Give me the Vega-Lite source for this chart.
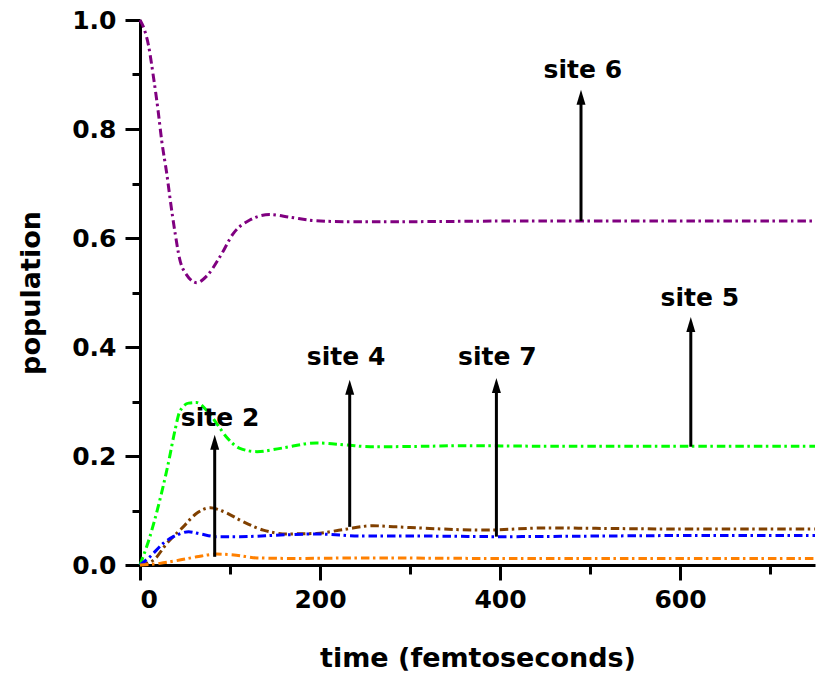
{
  "$schema": "https://vega.github.io/schema/vega-lite/v6.json",
  "width": 675,
  "height": 545,
  "autosize": {"type": "none"},
  "padding": {"left": 140, "top": 20, "right": 2, "bottom": 112},
  "background": "white",
  "config": {"view": {"stroke": null}, "font": "DejaVu Sans"},
  "datasets": {
    "curves": [
      {"site": "site 6", "t": 0, "p": 1.0}, {"site": "site 6", "t": 5, "p": 0.982}, {"site": "site 6", "t": 9, "p": 0.957},
      {"site": "site 6", "t": 15, "p": 0.895}, {"site": "site 6", "t": 20, "p": 0.835}, {"site": "site 6", "t": 24, "p": 0.78},
      {"site": "site 6", "t": 30, "p": 0.715}, {"site": "site 6", "t": 34, "p": 0.665}, {"site": "site 6", "t": 39, "p": 0.609},
      {"site": "site 6", "t": 44, "p": 0.562}, {"site": "site 6", "t": 52, "p": 0.532}, {"site": "site 6", "t": 63, "p": 0.518},
      {"site": "site 6", "t": 74, "p": 0.53}, {"site": "site 6", "t": 89, "p": 0.566}, {"site": "site 6", "t": 104, "p": 0.609},
      {"site": "site 6", "t": 122, "p": 0.633}, {"site": "site 6", "t": 144, "p": 0.643}, {"site": "site 6", "t": 167, "p": 0.638},
      {"site": "site 6", "t": 193, "p": 0.632}, {"site": "site 6", "t": 230, "p": 0.630}, {"site": "site 6", "t": 300, "p": 0.630},
      {"site": "site 6", "t": 400, "p": 0.631}, {"site": "site 6", "t": 500, "p": 0.631}, {"site": "site 6", "t": 600, "p": 0.631},
      {"site": "site 6", "t": 750, "p": 0.631},
      {"site": "site 5", "t": 0, "p": 0}, {"site": "site 5", "t": 11, "p": 0.052}, {"site": "site 5", "t": 22, "p": 0.119},
      {"site": "site 5", "t": 31.5, "p": 0.187}, {"site": "site 5", "t": 39, "p": 0.248}, {"site": "site 5", "t": 44, "p": 0.281},
      {"site": "site 5", "t": 54, "p": 0.297}, {"site": "site 5", "t": 63, "p": 0.298}, {"site": "site 5", "t": 74, "p": 0.284},
      {"site": "site 5", "t": 85, "p": 0.26}, {"site": "site 5", "t": 96, "p": 0.235}, {"site": "site 5", "t": 111, "p": 0.214},
      {"site": "site 5", "t": 130, "p": 0.208}, {"site": "site 5", "t": 156, "p": 0.214}, {"site": "site 5", "t": 196, "p": 0.224},
      {"site": "site 5", "t": 230, "p": 0.22}, {"site": "site 5", "t": 256, "p": 0.217}, {"site": "site 5", "t": 322, "p": 0.218},
      {"site": "site 5", "t": 352, "p": 0.219}, {"site": "site 5", "t": 450, "p": 0.218}, {"site": "site 5", "t": 550, "p": 0.218},
      {"site": "site 5", "t": 650, "p": 0.218}, {"site": "site 5", "t": 750, "p": 0.218},
      {"site": "site 4", "t": 0, "p": 0}, {"site": "site 4", "t": 15, "p": 0.009}, {"site": "site 4", "t": 30, "p": 0.04},
      {"site": "site 4", "t": 48, "p": 0.07}, {"site": "site 4", "t": 63, "p": 0.095}, {"site": "site 4", "t": 78, "p": 0.105},
      {"site": "site 4", "t": 93, "p": 0.098}, {"site": "site 4", "t": 115, "p": 0.079}, {"site": "site 4", "t": 137, "p": 0.064},
      {"site": "site 4", "t": 163, "p": 0.057}, {"site": "site 4", "t": 196, "p": 0.058}, {"site": "site 4", "t": 226, "p": 0.065},
      {"site": "site 4", "t": 259, "p": 0.072}, {"site": "site 4", "t": 285, "p": 0.070}, {"site": "site 4", "t": 322, "p": 0.067},
      {"site": "site 4", "t": 381, "p": 0.064}, {"site": "site 4", "t": 450, "p": 0.068}, {"site": "site 4", "t": 520, "p": 0.067},
      {"site": "site 4", "t": 600, "p": 0.066}, {"site": "site 4", "t": 750, "p": 0.066},
      {"site": "site 7", "t": 0, "p": 0}, {"site": "site 7", "t": 11, "p": 0.015}, {"site": "site 7", "t": 26, "p": 0.04},
      {"site": "site 7", "t": 41, "p": 0.055}, {"site": "site 7", "t": 54, "p": 0.061}, {"site": "site 7", "t": 67, "p": 0.057},
      {"site": "site 7", "t": 85, "p": 0.052}, {"site": "site 7", "t": 111, "p": 0.052}, {"site": "site 7", "t": 156, "p": 0.055},
      {"site": "site 7", "t": 196, "p": 0.057}, {"site": "site 7", "t": 248, "p": 0.053}, {"site": "site 7", "t": 322, "p": 0.053},
      {"site": "site 7", "t": 400, "p": 0.052}, {"site": "site 7", "t": 500, "p": 0.053}, {"site": "site 7", "t": 600, "p": 0.054},
      {"site": "site 7", "t": 750, "p": 0.054},
      {"site": "site 2", "t": 0, "p": 0}, {"site": "site 2", "t": 22, "p": 0.003}, {"site": "site 2", "t": 44, "p": 0.009},
      {"site": "site 2", "t": 63, "p": 0.015}, {"site": "site 2", "t": 85, "p": 0.02}, {"site": "site 2", "t": 107, "p": 0.018},
      {"site": "site 2", "t": 130, "p": 0.013}, {"site": "site 2", "t": 174, "p": 0.012}, {"site": "site 2", "t": 248, "p": 0.013},
      {"site": "site 2", "t": 400, "p": 0.012}, {"site": "site 2", "t": 750, "p": 0.012}
    ],
    "arrows": [
      {"site": "site 2", "t": 83, "base": 0.015, "shaft": 0.225, "tip": 0.239, "lt": 89, "lp": 0.27},
      {"site": "site 4", "t": 233, "base": 0.070, "shaft": 0.326, "tip": 0.34, "lt": 229, "lp": 0.382},
      {"site": "site 7", "t": 396, "base": 0.052, "shaft": 0.329, "tip": 0.343, "lt": 397, "lp": 0.382},
      {"site": "site 5", "t": 612, "base": 0.217, "shaft": 0.441, "tip": 0.455, "lt": 622, "lp": 0.49},
      {"site": "site 6", "t": 490, "base": 0.631, "shaft": 0.858, "tip": 0.872, "lt": 492, "lp": 0.908}
    ]
  },
  "resolve": {"axis": {"x": "independent", "y": "independent"}},
  "layer": [
    {
      "data": {"name": "curves"},
      "mark": {"type": "line", "interpolate": "monotone", "strokeWidth": 3, "strokeDash": [8.5, 3.5, 2.5, 4]},
      "encoding": {
        "x": {"field": "t", "type": "quantitative", "scale": {"domain": [0, 750], "nice": false},
          "axis": {"orient": "bottom", "values": [0, 200, 400, 600], "grid": false, "domainColor": "black", "domainWidth": 3,
            "tickColor": "black", "tickWidth": 3, "tickSize": 15, "labelFont": "DejaVu Sans", "labelFontWeight": "bold",
            "labelFontSize": 25, "labelColor": "black", "labelPadding": 7, "title": "time (femtoseconds)",
            "titleFont": "DejaVu Sans", "titleFontWeight": "bold", "titleFontSize": 27, "titleColor": "black", "titlePadding": 33}},
        "y": {"field": "p", "type": "quantitative", "scale": {"domain": [0, 1], "nice": false},
          "axis": {"orient": "left", "values": [0, 0.2, 0.4, 0.6, 0.8, 1.0], "format": ".1f", "grid": false, "domainColor": "black",
            "domainWidth": 3, "tickColor": "black", "tickWidth": 3, "tickSize": 15, "labelFont": "DejaVu Sans",
            "labelFontWeight": "bold", "labelFontSize": 25, "labelColor": "black", "labelPadding": 9, "title": "population",
            "titleFont": "DejaVu Sans", "titleFontWeight": "bold", "titleFontSize": 27, "titleColor": "black", "titlePadding": 26}},
        "color": {"field": "site", "type": "nominal", "legend": null,
          "scale": {"domain": ["site 2", "site 4", "site 5", "site 6", "site 7"],
            "range": ["#ff8000", "#804000", "#00ff00", "#800080", "#0000ff"]}},
        "detail": {"field": "site"}
      }
    },
    {
      "data": {"name": "arrows"},
      "mark": {"type": "rule", "color": "black", "strokeWidth": 3},
      "encoding": {
        "x": {"field": "t", "type": "quantitative", "scale": {"domain": [0, 750], "nice": false},
          "axis": {"orient": "bottom", "values": [100, 300, 500, 700], "grid": false, "domain": false, "labels": false,
            "tickColor": "black", "tickWidth": 3, "tickSize": 9, "title": null}},
        "y": {"field": "base", "type": "quantitative", "scale": {"domain": [0, 1], "nice": false},
          "axis": {"orient": "left", "values": [0.1, 0.3, 0.5, 0.7, 0.9], "grid": false, "domain": false, "labels": false,
            "tickColor": "black", "tickWidth": 3, "tickSize": 8, "title": null}},
        "y2": {"field": "shaft"}
      }
    },
    {
      "data": {"name": "arrows"},
      "mark": {"type": "point", "shape": "M0,0L0.6,2L-0.6,2Z", "filled": true, "color": "black", "opacity": 1, "size": 225},
      "encoding": {
        "x": {"field": "t", "type": "quantitative", "scale": {"domain": [0, 750], "nice": false}, "axis": null},
        "y": {"field": "tip", "type": "quantitative", "scale": {"domain": [0, 1], "nice": false}, "axis": null}
      }
    },
    {
      "data": {"name": "arrows"},
      "mark": {"type": "text", "font": "DejaVu Sans", "fontWeight": "bold", "fontSize": 25, "color": "black", "baseline": "middle", "align": "center"},
      "encoding": {
        "x": {"field": "lt", "type": "quantitative", "scale": {"domain": [0, 750], "nice": false}, "axis": null},
        "y": {"field": "lp", "type": "quantitative", "scale": {"domain": [0, 1], "nice": false}, "axis": null},
        "text": {"field": "site"}
      }
    }
  ]
}
